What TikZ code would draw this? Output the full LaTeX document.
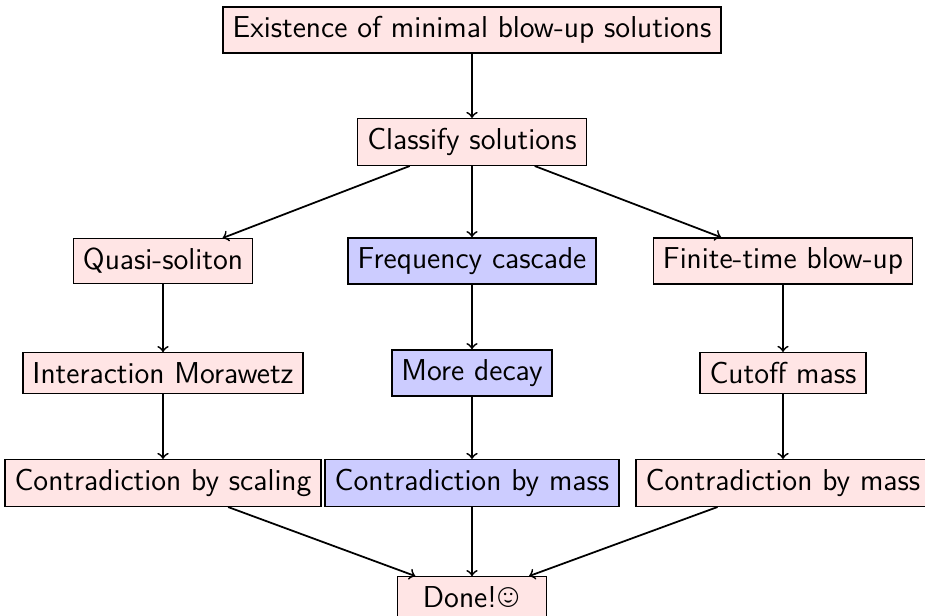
\documentclass[tikz,border=0pt]{standalone}
\usepackage{wasysym}
\renewcommand{\familydefault}{\sfdefault}
\begin{document}
\begin{tikzpicture}[x=0.397pt,y=-0.397pt,
  base/.style={draw, line width=0.55pt, font=\sffamily\fontsize{12}{14}\selectfont, inner sep=3.8pt},
  rbox/.style={base, fill=red!10},
  bbox/.style={base, fill=blue!20},
  conn/.style={->, line width=0.7pt},
  >=to]
\useasboundingbox (0,0) rectangle (925,616);
\node[rbox] (top) at (472,30) {Existence of minimal blow-up solutions};
\node[rbox] (cls) at (472,142) {Classify solutions};
\node[rbox] (qs) at (163,261) {Quasi-soliton};
\node[bbox] (fc) at (472,261) {Frequency cascade};
\node[rbox] (ft) at (783,261) {Finite-time blow-up};
\node[rbox] (im) at (163,373) {Interaction Morawetz};
\node[bbox] (md) at (472,373) {More decay};
\node[rbox] (cm) at (783,373) {Cutoff mass};
\node[rbox] (cs) at (163,483) {Contradiction by scaling};
\node[bbox] (cbm) at (472,483) {Contradiction by mass};
\node[rbox] (crm) at (783,483) {Contradiction by mass};
\node[rbox, minimum width=59pt] (done) at (472,597) {Done!\smiley};
\draw[conn] (top) -- (cls);
\draw[conn] (cls) -- (qs);
\draw[conn] (cls) -- (fc);
\draw[conn] (cls) -- (ft);
\draw[conn] (qs) -- (im);
\draw[conn] (fc) -- (md);
\draw[conn] (ft) -- (cm);
\draw[conn] (im) -- (cs);
\draw[conn] (md) -- (cbm);
\draw[conn] (cm) -- (crm);
\draw[conn] (cs) -- (done);
\draw[conn] (cbm) -- (done);
\draw[conn] (crm) -- (done);
\end{tikzpicture}
\end{document}
